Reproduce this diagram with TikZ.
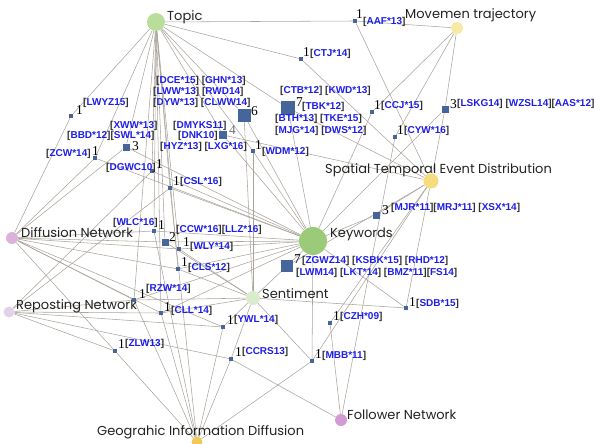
\documentclass[tikz,border=0pt]{standalone}
\usepackage{fontspec}
\setmainfont{Liberation Serif}
\newfontfamily\catfont{Poppins}
\newfontfamily\citefont{Liberation Sans}
\usetikzlibrary{backgrounds}
\definecolor{edgec}{HTML}{ABA49C}
\definecolor{sqc}{HTML}{46659A}
\definecolor{citc}{HTML}{1E1EE8}
\definecolor{brk}{HTML}{303030}
\definecolor{cattext}{HTML}{222222}
\definecolor{cTopic}{HTML}{B8DE9A}
\definecolor{cMove}{HTML}{F8EAA6}
\definecolor{cSted}{HTML}{F5DC7C}
\definecolor{cKw}{HTML}{9BCB78}
\definecolor{cDiff}{HTML}{DCB2DC}
\definecolor{cSent}{HTML}{DAECCB}
\definecolor{cRepo}{HTML}{E2D2E8}
\definecolor{cFoll}{HTML}{D29CD2}
\definecolor{cGeo}{HTML}{F2C85A}
\newcommand{\ct}[1]{\textcolor{brk}{[}\textcolor{citc}{#1}\textcolor{brk}{]}}
\tikzset{
  cat/.style={circle, inner sep=0pt, minimum size=#1},
  catlabel/.style={anchor=west, inner sep=0pt, text=cattext, font=\catfont\fontsize{13}{15}\selectfont},
  paper/.style={rectangle, fill=sqc, inner sep=0pt, minimum size=#1},
  cnt/.style={anchor=west, inner sep=0pt, font=\fontsize{13.5}{15}\selectfont},
  cite/.style={anchor=west, inner sep=0pt, font=\citefont\bfseries\fontsize{10}{12}\selectfont},
  edge/.style={draw=edgec, line width=0.55pt}
}
\begin{document}
\begin{tikzpicture}[x=1pt,y=-1pt]
\useasboundingbox (0,0) rectangle (594,444);

% category circles
\node[cat=18pt, fill=cTopic] (topic) at (156,22) {};
\node[cat=12pt, fill=cMove] (move) at (457,28) {};
\node[cat=15pt, fill=cSted] (sted) at (431,181) {};
\node[cat=28pt, fill=cKw] (kw) at (313,241) {};
\node[cat=12pt, fill=cDiff] (diff) at (12,238) {};
\node[cat=14pt, fill=cSent] (sent) at (253,298) {};
\node[cat=11pt, fill=cRepo] (repo) at (9,312) {};
\node[cat=12pt, fill=cFoll] (foll) at (341,420) {};
\node[cat=11pt, fill=cGeo] (geo) at (197,442) {};

% category labels
\node[catlabel] (topic-l) at (167,17) {Topic};
\node[catlabel] (move-l) at (405,15) {Movemen trajectory};
\node[catlabel] (sted-l) at (325,170) {Spatial Temporal Event Distribution};
\node[catlabel] (kw-l) at (330,234) {Keywords};
\node[catlabel] (diff-l) at (21,233) {Diffusion Network};
\node[catlabel] (sent-l) at (262,294) {Sentiment};
\node[catlabel] (repo-l) at (16,306) {Reposting Network};
\node[catlabel] (foll-l) at (347,415) {Follower Network};
\node[catlabel] (geo-l) at (97,432) {Geograhic Information Diffusion};

% paper groups
\node[paper=4pt] (aaf) at (355,21) {};
\node[paper=4pt] (ctj) at (301,59) {};
\node[paper=13pt] (six) at (244,115) {};
\node[paper=8pt] (four) at (223,135) {};
\node[paper=14pt] (seven) at (288,108) {};
\node[paper=4pt] (wdm) at (253,151) {};
\node[paper=4pt] (ccj) at (372,112) {};
\node[paper=4pt] (cyw) at (395,137) {};
\node[paper=7pt] (lskg) at (445,109) {};
\node[paper=4pt] (lwyz) at (71,116) {};
\node[paper=7pt] (xww) at (126,147) {};
\node[paper=4pt] (zcw) at (95,158) {};
\node[paper=4pt] (dgwc) at (152,171) {};
\node[paper=4pt] (csl) at (170,188) {};
\node[paper=4pt] (wlc) at (154,231) {};
\node[paper=7pt] (two) at (165,242) {};
\node[paper=4pt] (wly) at (179,249) {};
\node[paper=4pt] (cls) at (178,269) {};
\node[paper=4pt] (rzw) at (134,300) {};
\node[paper=4pt] (cll) at (161,313) {};
\node[paper=4pt] (ywl) at (223,327) {};
\node[paper=4pt] (zlw) at (115,351) {};
\node[paper=4pt] (ccrs) at (231,359) {};
\node[paper=4pt] (czh) at (330,323) {};
\node[paper=4pt] (mbb) at (312,361) {};
\node[paper=4pt] (sdb) at (406,308) {};
\node[paper=12pt] (zgwz) at (287,266) {};
\node[paper=7pt] (mjr) at (376,215) {};

% counts and citations
\node[cnt] (aaf-n) at (356,14) {1};
\node[cite] (aaf-c) at (363,22) {\ct{AAF*13}};
\node[cnt] (ctj-n) at (303,52) {1};
\node[cite] (ctj-c) at (310,54) {\ct{CTJ*14}};
\node[cnt] (six-n) at (251,111) {6};
\node[cite] (six-c1) at (156,81) {\ct{DCE*15} \ct{GHN*13}};
\node[cite] (six-c2) at (153,92) {\ct{LWW*13} \ct{RWD14}};
\node[cite] (six-c3) at (153,103) {\ct{DYW*13} \ct{CLWW14}};
\node[cnt, text=black!55] (four-n) at (229,130) {4};
\node[cite] (four-c1) at (173,126) {\ct{DMYKS11}};
\node[cite] (four-c2) at (178,136) {\ct{DNK10}};
\node[cite] (four-c3) at (160,147) {\ct{HYZ*13} \ct{LXG*16}};
\node[cnt] (seven-n) at (296,102) {7};
\node[cite] (seven-c1) at (280,91) {\ct{CTB*12} \ct{KWD*13}};
\node[cite] (seven-c2) at (302,107) {\ct{TBK*12}};
\node[cite] (seven-c3) at (275,119) {\ct{BTH*13} \ct{TKE*15}};
\node[cite] (seven-c4) at (275,131) {\ct{MJG*14} \ct{DWS*12}};
\node[cnt] (wdm-n) at (255,145) {1};
\node[cite] (wdm-c) at (262,152) {\ct{WDM*12}};
\node[cnt] (ccj-n) at (374,105) {1};
\node[cite] (ccj-c) at (381,106) {\ct{CCJ*15}};
\node[cnt] (cyw-n) at (397,130) {1};
\node[cite] (cyw-c) at (404,131) {\ct{CYW*16}};
\node[cnt] (lskg-n) at (450,104) {3};
\node[cite] (lskg-c) at (457,104) {\ct{LSKG14} \ct{WZSL14}\ct{AAS*12}};
\node[cnt] (lwyz-n) at (76,110) {1};
\node[cite] (lwyz-c) at (83,103) {\ct{LWYZ15}};
\node[cnt] (xww-n) at (132,146) {3};
\node[cite] (xww-c1) at (110,126) {\ct{XWW*13}};
\node[cite] (xww-c2) at (67,136) {\ct{BBD*12}\ct{SWL*14}};
\node[cnt] (zcw-n) at (92,151) {1};
\node[cite] (zcw-c) at (46,154) {\ct{ZCW*14}};
\node[cnt] (dgwc-n) at (156,164) {1};
\node[cite] (dgwc-c) at (106,168) {\ct{DGWC10}};
\node[cnt] (csl-n) at (173,181) {1};
\node[cite] (csl-c) at (180,182) {\ct{CSL*16}};
\node[cnt] (wlc-n) at (158,225) {1};
\node[cite] (wlc-c) at (113,223) {\ct{WLC*16}};
\node[cnt] (two-n) at (169,237) {2};
\node[cite] (two-c) at (176,230) {\ct{CCW*16}\ct{LLZ*16}};
\node[cnt] (wly-n) at (183,242) {1};
\node[cite] (wly-c) at (190,247) {\ct{WLY*14}};
\node[cnt] (cls-n) at (181,262) {1};
\node[cite] (cls-c) at (188,268) {\ct{CLS*12}};
\node[cnt] (rzw-n) at (139,294) {1};
\node[cite] (rzw-c) at (146,289) {\ct{RZW*14}};
\node[cnt] (cll-n) at (164,307) {1};
\node[cite] (cll-c) at (171,311) {\ct{CLL*14}};
\node[cnt] (ywl-n) at (227,320) {1};
\node[cite] (ywl-c) at (234,320) {\ct{YWL*14}};
\node[cnt] (zlw-n) at (118,344) {1};
\node[cite] (zlw-c) at (125,344) {\ct{ZLW13}};
\node[cnt] (ccrs-n) at (235,352) {1};
\node[cite] (ccrs-c) at (242,352) {\ct{CCRS13}};
\node[cnt] (czh-n) at (333,316) {1};
\node[cite] (czh-c) at (340,317) {\ct{CZH*09}};
\node[cnt] (mbb-n) at (315,354) {1};
\node[cite] (mbb-c) at (322,356) {\ct{MBB*11}};
\node[cnt] (sdb-n) at (409,302) {1};
\node[cite] (sdb-c) at (416,304) {\ct{SDB*15}};
\node[cnt] (zgwz-n) at (294,259) {7};
\node[cite] (zgwz-c1) at (302,261) {\ct{ZGWZ14} \ct{KSBK*15} \ct{RHD*12}};
\node[cite] (zgwz-c2) at (296,273) {\ct{LWM14} \ct{LKT*14} \ct{BMZ*11}\ct{FS14}};
\node[cnt] (mjr-n) at (382,210) {3};
\node[cite] (mjr-c) at (391,208) {\ct{MJR*11}\ct{MRJ*11} \ct{XSX*14}};

% links between categories and paper groups
\begin{pgfonlayer}{background}
\foreach \p in {aaf,ctj,six,seven,four,wdm,lwyz,xww,zcw,dgwc,csl,wlc,two,wly,cls,cll,rzw}
  \draw[edge] (topic) -- (\p);
\foreach \p in {aaf,ccj,cyw,lskg}
  \draw[edge] (move) -- (\p);
\foreach \p in {aaf,ctj,seven,four,lskg,mjr,sdb,mbb,czh,zgwz}
  \draw[edge] (sted) -- (\p);
\foreach \p in {six,four,seven,wdm,xww,dgwc,csl,wlc,two,wly,cls,rzw,cll,mjr,zgwz,mbb,sdb,ccj,lskg,zcw}
  \draw[edge] (kw) -- (\p);
\foreach \p in {lwyz,xww,zcw,wlc,two,wly,cls,rzw,cll,zlw,ywl}
  \draw[edge] (diff) -- (\p);
\foreach \p in {six,wdm,cls,rzw,cll,ywl,mbb,sdb,zgwz,ccrs,wly,two}
  \draw[edge] (sent) -- (\p);
\foreach \p in {rzw,cll,ywl,ccrs,zlw,csl,dgwc}
  \draw[edge] (repo) -- (\p);
\foreach \p in {czh,ccrs,cyw}
  \draw[edge] (foll) -- (\p);
\foreach \p in {zlw,ccrs,mbb,ywl,rzw,cll,wlc,csl}
  \draw[edge] (geo) -- (\p);
\end{pgfonlayer}
\end{tikzpicture}
\end{document}
